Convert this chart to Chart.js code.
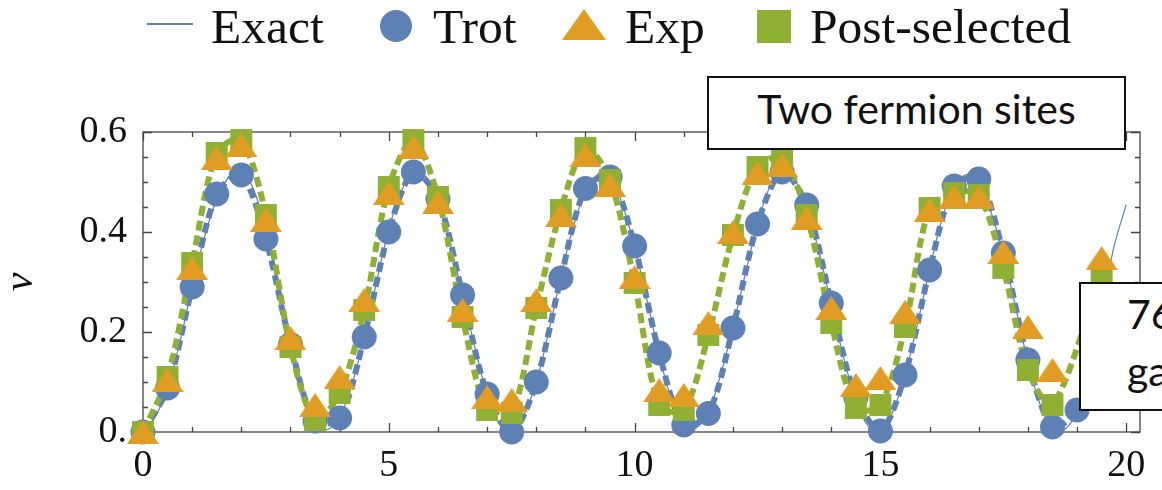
<!DOCTYPE html>
<html>
<head>
<meta charset="utf-8">
<script src="https://cdn.jsdelivr.net/npm/chart.js@4"></script>
<style>
    html, body { margin: 0; padding: 0; background: #fff; overflow: hidden; }
    #wrap { position: relative; width: 1162px; height: 490px; overflow: hidden; }
    #chart { position: absolute; left: 0; top: 0; }
    .lg { position: absolute; font-family: 'Liberation Serif', serif; font-size: 49.5px; line-height: 48px; color: #111; white-space: nowrap; }
    .mk { position: absolute; }
    .box { position: absolute; box-sizing: border-box; border: 2px solid #111; background: #fff; }
    .box span { position: absolute; font-family: Lato, 'Open Sans', sans-serif; font-size: 41px; line-height: 40px; color: #111; white-space: nowrap; }
</style>
</head>
<body>
<div id="wrap">
    <canvas id="chart" width="1162" height="490"></canvas>

    <!-- legend -->
    <div class="mk" style="left:147px; top:23px; width:46px; height:1.5px; background:#5E81B5;"></div>
    <div class="lg" style="left:211px; top:3px;">Exact</div>
    <div class="mk" style="left:380px; top:10px; width:32px; height:32px; border-radius:50%; background:#5E81B5;"></div>
    <div class="lg" style="left:433px; top:3px;">Trot</div>
    <div class="mk" style="left:562px; top:9px; width:44px; height:31px; background:#E19C24; clip-path:polygon(50% 0, 100% 100%, 0 100%);"></div>
    <div class="lg" style="left:625px; top:3px;">Exp</div>
    <div class="mk" style="left:757px; top:10px; width:34px; height:33px; background:#8FB032;"></div>
    <div class="lg" style="left:810px; top:3px;">Post-selected</div>

    <!-- labels -->
    <div class="box" style="left:707px; top:76px; width:419px; height:74px;">
        <span style="left:0; right:0; text-align:center; top:11px;">Two fermion sites</span>
    </div>
    <div class="box" style="left:1079px; top:282px; width:300px; height:129px;">
        <span style="left:46px; top:10px;">76 CNOT</span>
        <span style="left:46px; top:67px;">gates</span>
    </div>
</div>
<script>
    // Sampled times for the simulated / measured points
    const tValues = [0, 0.5, 1, 1.5, 2, 2.5, 3, 3.5, 4, 4.5, 5, 5.5, 6, 6.5, 7, 7.5, 8, 8.5, 9, 9.5,
        10, 10.5, 11, 11.5, 12, 12.5, 13, 13.5, 14, 14.5, 15, 15.5, 16, 16.5, 17, 17.5, 18, 18.5, 19, 19.5];

    const trotValues = [0, 0.088, 0.29, 0.476, 0.514, 0.386, 0.175, 0.022, 0.028, 0.19,
        0.40, 0.52, 0.466, 0.274, 0.076, 0.0, 0.10, 0.308, 0.487, 0.51,
        0.372, 0.158, 0.014, 0.037, 0.208, 0.416, 0.52, 0.454, 0.258, 0.069,
        0.002, 0.114, 0.324, 0.492, 0.506, 0.358, 0.144, 0.01, 0.044, 0.16];

    const expValues = [0.0, 0.104, 0.328, 0.548, 0.574, 0.424, 0.188, 0.054, 0.11, 0.264,
        0.478, 0.57, 0.46, 0.244, 0.07, 0.064, 0.264, 0.434, 0.554, 0.494,
        0.31, 0.084, 0.074, 0.218, 0.40, 0.518, 0.534, 0.428, 0.248, 0.094,
        0.108, 0.24, 0.444, 0.47, 0.47, 0.36, 0.21, 0.124, null, 0.348];

    const postValues = [0.0, 0.11, 0.338, 0.558, 0.584, 0.434, 0.17, 0.024, 0.078, 0.244,
        0.49, 0.584, 0.47, 0.23, 0.044, 0.038, 0.248, 0.444, 0.568, 0.504,
        0.298, 0.054, 0.044, 0.194, 0.394, 0.53, 0.548, 0.434, 0.218, 0.048,
        0.054, 0.21, 0.448, 0.478, 0.474, 0.328, 0.124, 0.054, null, 0.318];

    const tExact = [0, 0.25, 0.5, 0.75, 1, 1.25, 1.5, 1.75, 2, 2.25, 2.5, 2.75, 3, 3.25, 3.5, 3.75,
        4, 4.25, 4.5, 4.75, 5, 5.25, 5.5, 5.75, 6, 6.25, 6.5, 6.75, 7, 7.25, 7.5, 7.75,
        8, 8.25, 8.5, 8.75, 9, 9.25, 9.5, 9.75, 10, 10.25, 10.5, 10.75, 11, 11.25, 11.5, 11.75,
        12, 12.25, 12.5, 12.75, 13, 13.25, 13.5, 13.75, 14, 14.25, 14.5, 14.75, 15, 15.25, 15.5, 15.75,
        16, 16.25, 16.5, 16.75, 17, 17.25, 17.5, 17.75, 18, 18.25, 18.5, 18.75, 19, 19.25, 19.5, 19.75, 20];
    const exactValues = [0, 0.03, 0.09, 0.18, 0.29, 0.39, 0.465, 0.51, 0.52, 0.485, 0.40, 0.29, 0.175, 0.08, 0.02, 0.005,
        0.03, 0.095, 0.19, 0.30, 0.405, 0.48, 0.52, 0.51, 0.46, 0.375, 0.275, 0.17, 0.075, 0.015, 0.0, 0.035,
        0.10, 0.20, 0.31, 0.41, 0.48, 0.515, 0.51, 0.455, 0.37, 0.265, 0.155, 0.065, 0.012, 0.008, 0.04, 0.115,
        0.21, 0.315, 0.415, 0.49, 0.52, 0.505, 0.45, 0.36, 0.255, 0.15, 0.065, 0.012, 0.003, 0.04, 0.115, 0.215,
        0.325, 0.425, 0.49, 0.515, 0.50, 0.44, 0.355, 0.25, 0.14, 0.055, 0.008, 0.005, 0.045, 0.13, 0.25, 0.37, 0.455];

    const xMajorTicks = [0, 5, 10, 15, 20];
    const yMajorTicks = [0, 0.2, 0.4, 0.6];

    const colors = { blue: '#5E81B5', orange: '#E19C24', green: '#8FB032' };
    const serif = "'Liberation Serif', 'DejaVu Serif', serif";

    const pts = (xs, ys) => xs.map((x, i) => ({ x: x, y: ys[i] }));

    // Wide, flat triangle marker like the reference
    function makeTriangle(w, h, color) {
        const c = document.createElement('canvas');
        c.width = w; c.height = h;
        const g = c.getContext('2d');
        g.fillStyle = color;
        g.beginPath();
        g.moveTo(w / 2, 0);
        g.lineTo(w, h);
        g.lineTo(0, h);
        g.closePath();
        g.fill();
        return c;
    }
    const triangle = makeTriangle(32, 24, colors.orange);

    // Framed axes with inward ticks on all four sides
    const framePlugin = {
        id: 'frame',
        beforeDatasetsDraw(chart) {
            const { ctx, chartArea: a, scales } = chart;
            const x = scales.x, y = scales.y;
            ctx.save();
            ctx.strokeStyle = '#444';
            ctx.lineWidth = 1.3;
            ctx.strokeRect(a.left, a.top, a.right - a.left, a.bottom - a.top);
            ctx.beginPath();
            for (let v = 0; v <= 20; v += 1) {
                const px = Math.round(x.getPixelForValue(v)) + 0.5;
                const len = v % 5 === 0 ? 9 : 5;
                ctx.moveTo(px, a.bottom); ctx.lineTo(px, a.bottom - len);
                ctx.moveTo(px, a.top); ctx.lineTo(px, a.top + len);
            }
            for (let k = 0; k <= 12; k++) {
                const py = Math.round(y.getPixelForValue(k * 0.05)) + 0.5;
                const len = k % 4 === 0 ? 9 : 5;
                ctx.moveTo(a.left, py); ctx.lineTo(a.left + len, py);
                ctx.moveTo(a.right, py); ctx.lineTo(a.right - len, py);
            }
            ctx.stroke();
            ctx.restore();
        }
    };

    const ctx = document.getElementById('chart').getContext('2d');
    new Chart(ctx, {
        type: 'line',
        data: {
            datasets: [
                {
                    label: 'Exact',
                    data: pts(tExact, exactValues),
                    borderColor: colors.blue,
                    borderWidth: 1.2,
                    tension: 0.4,
                    pointRadius: 0,
                    order: 5
                },
                {
                    label: 'Trot line',
                    data: pts(tValues, trotValues),
                    borderColor: colors.blue,
                    borderWidth: 6,
                    borderDash: [10, 5],
                    tension: 0.3,
                    pointRadius: 0,
                    order: 4
                },
                {
                    label: 'Post line',
                    data: pts(tValues, postValues),
                    borderColor: colors.green,
                    borderWidth: 6,
                    borderDash: [10, 5],
                    tension: 0.3,
                    spanGaps: true,
                    pointRadius: 0,
                    order: 3
                },
                {
                    label: 'Trot',
                    data: pts(tValues, trotValues),
                    showLine: false,
                    pointStyle: 'circle',
                    pointRadius: 12.5,
                    pointBackgroundColor: colors.blue,
                    pointBorderWidth: 0,
                    order: 2
                },
                {
                    label: 'Post-selected',
                    data: pts(tValues, postValues),
                    showLine: false,
                    pointStyle: 'rect',
                    pointRadius: 15.5,
                    pointBackgroundColor: colors.green,
                    pointBorderWidth: 0,
                    order: 1
                },
                {
                    label: 'Exp',
                    data: pts(tValues, expValues),
                    showLine: false,
                    pointStyle: triangle,
                    pointRadius: 12,
                    order: 0
                }
            ]
        },
        options: {
            responsive: false,
            animation: false,
            clip: false,
            layout: { padding: { top: 132, right: 22, bottom: 0, left: 0 } },
            plugins: {
                legend: { display: false },
                tooltip: { enabled: false }
            },
            scales: {
                x: {
                    type: 'linear',
                    min: 0,
                    max: 20.28,
                    grid: { display: false, drawTicks: false },
                    border: { display: false },
                    afterBuildTicks: (s) => { s.ticks = xMajorTicks.map(v => ({ value: v })); },
                    afterFit: (s) => { s.height = 58; },
                    ticks: {
                        padding: 11,
                        maxRotation: 0,
                        color: '#111',
                        font: { family: serif, size: 38 },
                        callback: (v) => String(v)
                    }
                },
                y: {
                    min: 0,
                    max: 0.6,
                    grid: { display: false, drawTicks: false },
                    border: { display: false },
                    afterBuildTicks: (s) => { s.ticks = yMajorTicks.map(v => ({ value: v })); },
                    afterFit: (s) => { s.width = 143; },
                    title: {
                        display: true,
                        text: 'ν',
                        color: '#111',
                        padding: 0,
                        font: { family: serif, size: 42, style: 'italic', lineHeight: 1 }
                    },
                    ticks: {
                        padding: 16,
                        color: '#111',
                        font: { family: serif, size: 38 },
                        callback: (v) => v === 0 ? '0.' : v.toFixed(1)
                    }
                }
            }
        },
        plugins: [framePlugin]
    });
</script>
</body>
</html>
